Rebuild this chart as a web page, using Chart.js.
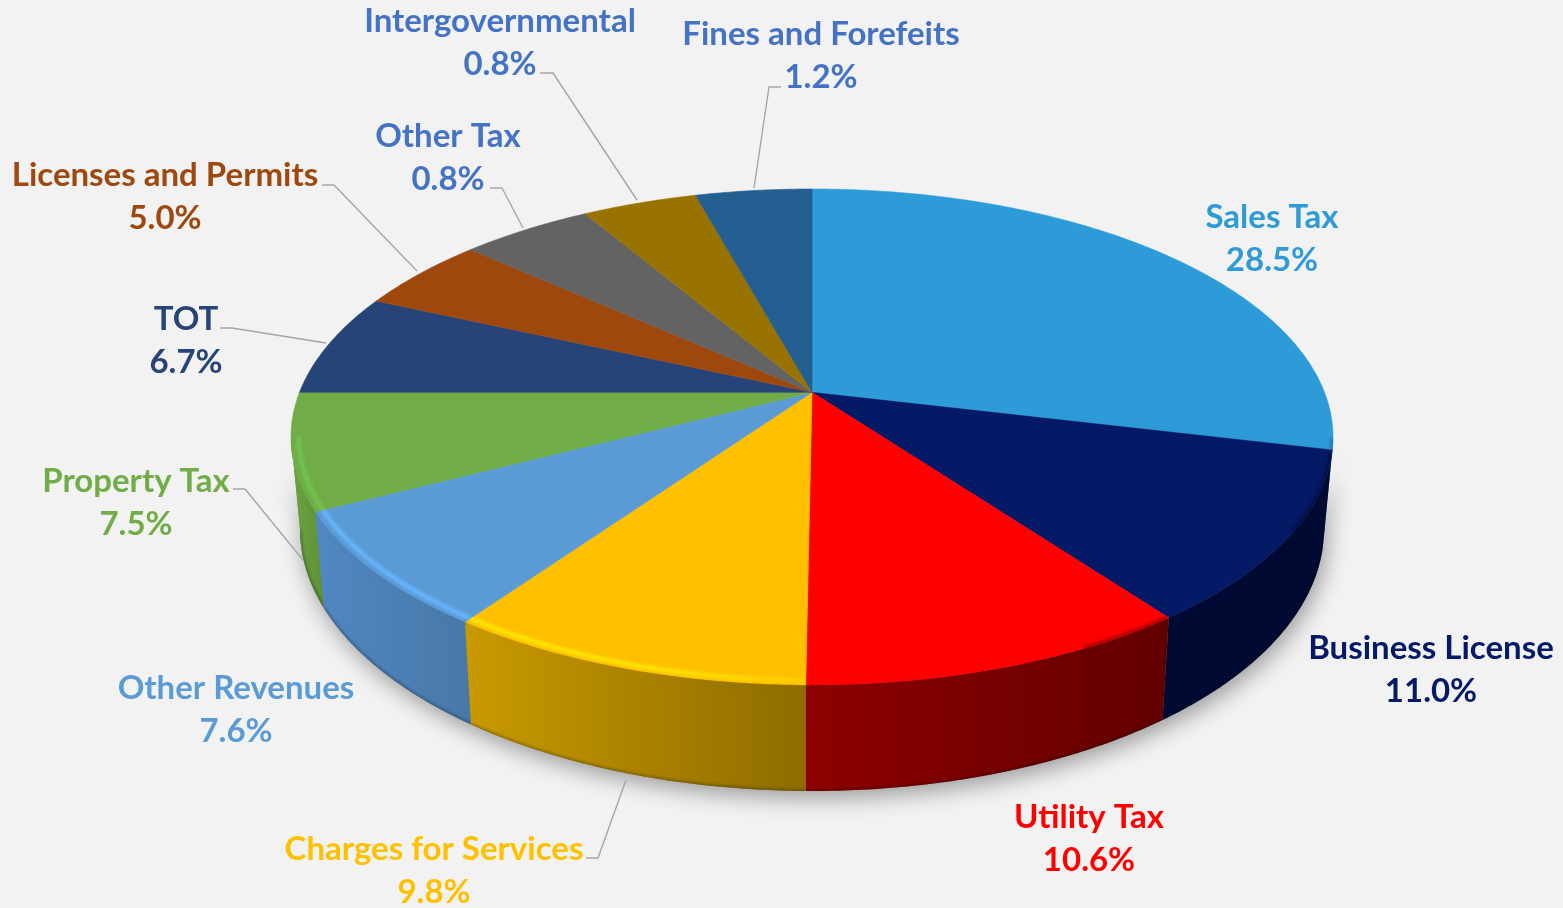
<!DOCTYPE html>
<html><head><meta charset="utf-8">
<style>html,body{margin:0;padding:0;background:#f2f2f2}canvas{display:block}</style>
<script src="https://cdn.jsdelivr.net/npm/chart.js@4"></script></head>
<body><canvas id="c" width="1563" height="908"></canvas>
<script>
// Data
const categories = ['Sales Tax','Business License','Utility Tax','Charges for Services','Other Revenues','Property Tax','TOT','Licenses and Permits','Other Tax','Intergovernmental','Fines and Forefeits'];
// Share of the pie each slice occupies as drawn
const sliceShares = [28.7,11.15,10.31,9.64,7.65,7.55,6.7,4.9,4.85,4.25,4.3];
// Percentages as printed on the labels
const printedPercents = ['28.5%','11.0%','10.6%','9.8%','7.6%','7.5%','6.7%','5.0%','0.8%','0.8%','1.2%'];

// Styles
const topColors  = ['#2d9bd8','#051a66','#ff0000','#ffc000','#5b9bd5','#70ad47','#264478','#9e480e','#636363','#997300','#255e91'];
const labelColors= ['#2e9ad6','#051a66','#ff0000','#ffc000','#5b9bd5','#70ad47','#264478','#9e480e','#4472c4','#4472c4','#4472c4'];
const wallLeft   = ['#1c6f9f','#010a33','#8e0000','#c99a00','#5088c2','#6ba542','#1a2f55','#6e320a','#444','#6b5000','#1a4266'];
const wallRight  = ['#14577d','#010a33','#620000','#8e6c00','#4878a8','#5f9136','#1a2f55','#6e320a','#444','#6b5000','#1a4266'];
const rimColors  = [null,null,null,'#ffe600','#66b6ff','#72c44f',null,null,null,null,null];
// Layout of the text
const labelCenters = [[1272,217],[1431,648],[1089,817],[434,849],[236,688],[136,481],[186,319],[165,175],[448,136],[500,21],[821,34]];
const lineGap = 43;
const leaderLines = [null,null,null,
  [[586,858],[598,858],[626,780]],null,
  [[233,489],[245,489],[303,560]],
  [[220,328],[232,328],[326,343]],
  [[322,185],[334,185],[417,271]],
  [[490,188],[502,188],[523,228]],
  [[540,73],[553,73],[637,200]],
  [[781,87],[769,87],[754,188]]];

// Perspective of the disc
const K = -0.18, ASPECT = 521/248, DEPTH = 92, BOTTOM_RX = 512/521, BOTTOM_RY = 262/248;
function project(theta, cx, cy, rx, ry){
  const x = Math.sin(theta), y = -Math.cos(theta), d = 1 + K*y;
  return [cx + rx*x*Math.sqrt(1-K*K)/d, cy + ry*(y+K)/d];
}
function arcPts(a0, a1, cx, cy, rx, ry){
  const n = Math.max(4, Math.ceil(Math.abs(a1-a0)/0.01)), out = [];
  for(let i=0;i<=n;i++) out.push(project(a0+(a1-a0)*i/n, cx, cy, rx, ry));
  return out;
}
function trace(ctx, pts, close){
  ctx.beginPath();
  pts.forEach((p,i)=> i?ctx.lineTo(p[0],p[1]):ctx.moveTo(p[0],p[1]));
  if(close) ctx.closePath();
}
const pie3d = {
  id:'pie3d',
  beforeDatasetDraw(chart){
    const ctx = chart.ctx, arcs = chart.getDatasetMeta(0).data;
    const cx = arcs[0].x, cy = arcs[0].y, R = arcs[0].outerRadius, rx = R*ASPECT;
    const bcy = cy+DEPTH, brx = rx*BOTTOM_RX, bry = R*BOTTOM_RY;
    const a = arcs.map(e=>({s:e.startAngle+Math.PI/2, e:e.endAngle+Math.PI/2}));
    // the wall is visible between the two widest points of the disc
    const LO=Math.acos(K), HI=Math.PI*2-LO;
    const hull=arcPts(LO,HI,cx,cy,rx,R).concat(arcPts(HI,LO,cx,bcy,brx,bry));

    // cast shadow
    ctx.save();
    ctx.shadowColor='rgba(0,0,0,0.36)'; ctx.shadowBlur=22; ctx.shadowOffsetY=7; ctx.shadowOffsetX=3;
    ctx.fillStyle='#777'; trace(ctx,hull,true); ctx.fill();
    ctx.restore();

    // walls, from the sides towards the front
    const order = a.map((o,i)=>i).filter(i=>a[i].e>LO && a[i].s<HI)
      .sort((p,q)=>Math.abs((a[q].s+a[q].e)/2-Math.PI)-Math.abs((a[p].s+a[p].e)/2-Math.PI));
    order.forEach(i=>{
      const s=Math.max(a[i].s,LO), e=Math.min(a[i].e,HI);
      const t=arcPts(s,e,cx,cy,rx,R), b=arcPts(s,e,cx,bcy,brx,bry);
      const xs=t.concat(b).map(p=>p[0]);
      const g=ctx.createLinearGradient(Math.min(...xs),0,Math.max(...xs),0);
      g.addColorStop(0,wallLeft[i]); g.addColorStop(1,wallRight[i]);
      ctx.save();
      ctx.fillStyle=g;
      trace(ctx,t.concat(b.slice().reverse()),true); ctx.fill();
      ctx.clip();
      ctx.filter='blur(1.5px)'; ctx.strokeStyle='rgba(0,0,0,0.3)'; ctx.lineWidth=3;
      trace(ctx,b,false); ctx.stroke();
      ctx.restore();
    });

    // top surface
    const ax=cx, ay=cy+R*K;
    a.forEach((o,i)=>{
      const pts=[[ax,ay]].concat(arcPts(o.s,o.e,cx,cy,rx,R));
      ctx.fillStyle=topColors[i]; ctx.strokeStyle=topColors[i]; ctx.lineWidth=0.6;
      trace(ctx,pts,true); ctx.fill(); ctx.stroke();
    });

    // soft edge between the top surface and the wall, then the bright bevel
    a.forEach((o,i)=>{
      const s=Math.max(o.s,LO), e=Math.min(o.e,HI);
      if(e<=s) return;
      const clipPts=[[ax,ay]].concat(arcPts(s,e,cx,cy,rx,R), arcPts(e,s,cx,bcy,brx,bry));
      ctx.save();
      trace(ctx,clipPts,true); ctx.clip();
      ctx.filter='blur(2.2px)';
      const edge=arcPts(s,e,cx,cy+1,rx,R);
      const xs=edge.map(p=>p[0]);
      const g=ctx.createLinearGradient(Math.min(...xs),0,Math.max(...xs),0);
      g.addColorStop(0,wallLeft[i]); g.addColorStop(1,wallRight[i]);
      ctx.strokeStyle=g; ctx.lineWidth=4;
      trace(ctx,edge,false); ctx.stroke();
      ctx.restore();
      if(rimColors[i]){
        const clipT=[[ax,ay]].concat(arcPts(s,e,cx,cy,rx,R));
        const line=arcPts(s,e,cx,cy-1,rx*0.985,R*0.985);
        ctx.save();
        trace(ctx,clipT,true); ctx.clip();
        ctx.filter='blur(1.8px)';
        let st=rimColors[i];
        if(i===3){
          const h=ctx.createLinearGradient(466,0,806,0);
          h.addColorStop(0,'#ffe600'); h.addColorStop(0.55,'#ffe600'); h.addColorStop(1,'#ffcc00'); st=h;
        }
        ctx.strokeStyle=st; ctx.lineWidth=4.5;
        trace(ctx,line,false); ctx.stroke();
        ctx.restore();
      }
    });
    return false;
  },
  afterDraw(chart){
    const ctx = chart.ctx;
    ctx.save();
    ctx.strokeStyle='#a6a6a6'; ctx.lineWidth=1.4; ctx.lineJoin='round';
    leaderLines.forEach(l=>{ if(l){ trace(ctx,l,false); ctx.stroke(); } });
    ctx.font='bold 33px Lato, "Open Sans", sans-serif';
    ctx.textAlign='center'; ctx.textBaseline='middle';
    categories.forEach((name,i)=>{
      const [x,y]=labelCenters[i];
      ctx.fillStyle=labelColors[i];
      ctx.fillText(name,x,y);
      ctx.fillText(printedPercents[i],x,y+lineGap);
    });
    ctx.restore();
  }
};
new Chart(document.getElementById('c'),{
  type:'pie',
  data:{labels:categories,datasets:[{data:sliceShares,backgroundColor:topColors,borderWidth:0}]},
  options:{
    responsive:false,animation:false,
    layout:{padding:{left:291,right:230,top:189,bottom:223}},
    plugins:{legend:{display:false},tooltip:{enabled:false}}
  },
  plugins:[pie3d]
});
</script></body></html>
